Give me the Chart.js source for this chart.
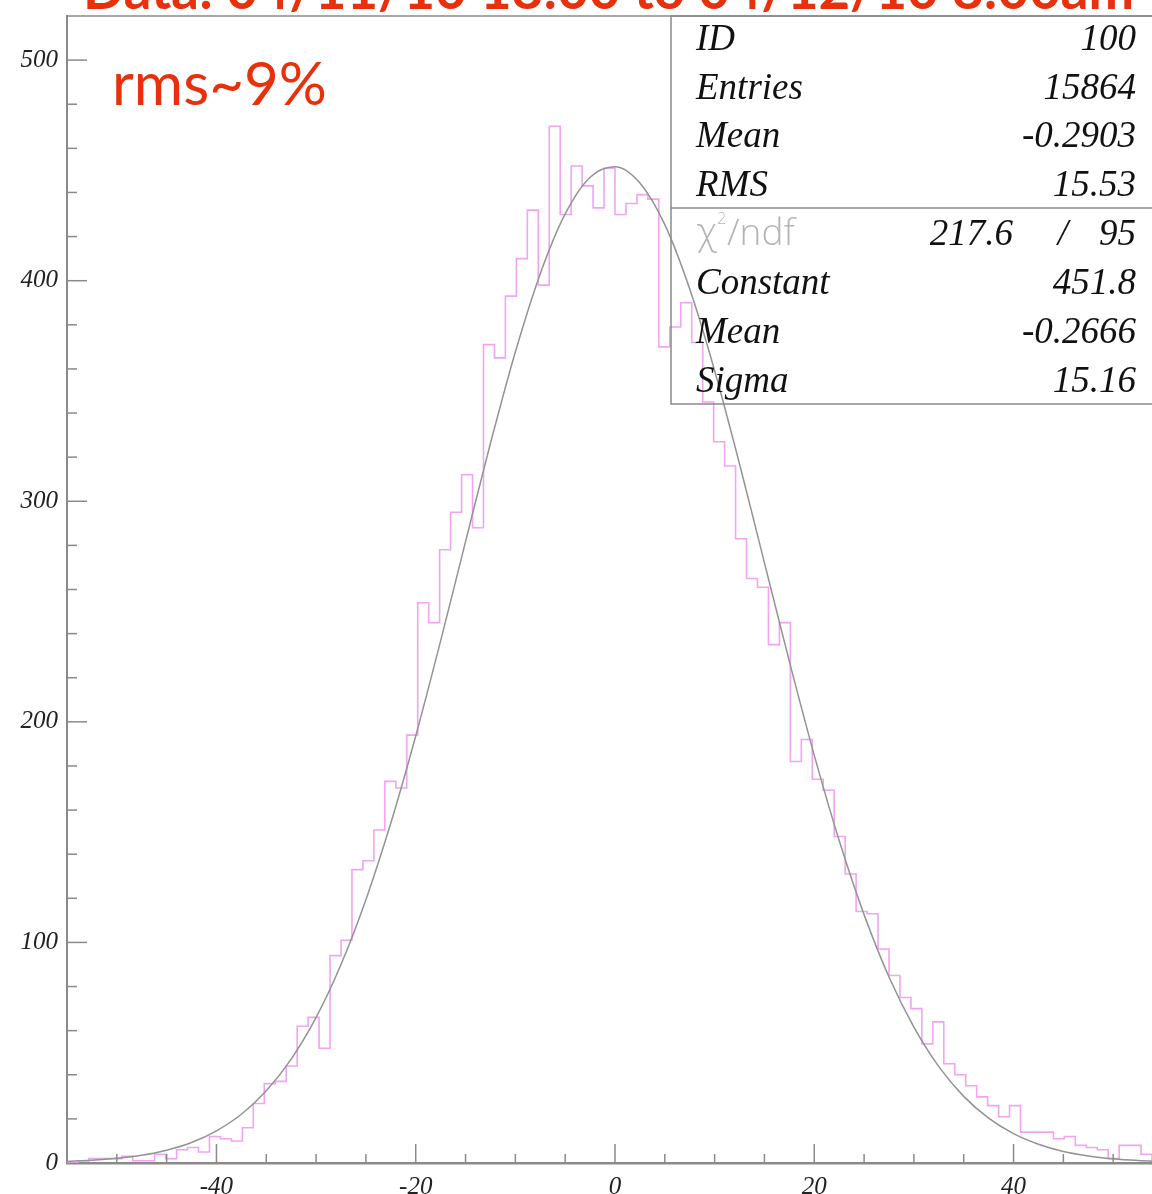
<!DOCTYPE html>
<html><head><meta charset="utf-8">
<script src="https://cdn.jsdelivr.net/npm/chart.js@4.4.1/dist/chart.umd.min.js"></script>
<style>
html,body{margin:0;padding:0;overflow:hidden;background:#fff;width:1152px;height:1194px;}
#wrap{position:absolute;left:0;top:0;width:1163px;height:1194px;}
canvas{display:block;}
</style></head><body>
<div id="wrap"><canvas id="c" width="1163" height="1194"></canvas></div>
<script>
// Histogram binning (100 bins from -55 to 55)
const binLow = -55;
const binWidth = 1.1;
// Bin contents
const counts = [
  0, 1, 2, 2, 2, 3, 1, 1, 4, 2,
  6, 7, 5, 12, 11, 10, 16, 27, 36, 37,
  44, 62, 66, 52, 94, 101, 133, 137, 151, 173,
  170, 194, 254, 245, 278, 295, 312, 288, 371, 365,
  393, 410, 432, 398, 470, 430, 452, 443, 433, 451,
  430, 435, 439, 437, 370, 379, 390, 372, 345, 327,
  316, 283, 265, 261, 235, 245, 182, 192, 174, 169,
  148, 131, 114, 113, 97, 85, 75, 70, 54, 64,
  45, 40, 35, 30, 26, 21, 26, 14, 14, 14,
  11, 12, 8, 7, 6, 2, 8, 8, 4, 1
];
// Fitted curve
const fitX = [-55,-52.5,-50,-47.5,-45,-42.5,-40,-37.5,-35,-32.5,-30,-27.5,-25,-22.5,-20,-17.5,-15,-12.5,-10,-7.5,-5,-2.5,0,2.5,5,7.5,10,12.5,15,17.5,20,22.5,25,27.5,30,32.5,35,37.5,40,42.5,45,47.5,50,52.5,55];
const fitY = [0.7,1.2,2.1,3.5,5.8,9.3,14.6,22.1,32.8,47.1,66,90,119.4,154.1,193.6,236.7,281.7,326.3,367.7,403.2,430.3,446.9,451.7,444.3,425.4,396.2,359.2,316.9,272.1,227.4,184.8,146.2,112.6,84.3,61.6,43.7,30.2,20.3,13.3,8.5,5.2,3.2,1.9,1.1,0.6];
// Axis ranges / tick labels
const xRange = [-55, 55];
const yRange = [0, 520];
const xLabelEvery = 20, xMinorEvery = 5;
const yLabelEvery = 100, yMinorEvery = 20;
// Stats box texts
const statsTop = [["ID","100"],["Entries","15864"],["Mean","-0.2903"],["RMS","15.53"]];
const chi2 = ["217.6", "/", "95"];
const statsFit = [["Constant","451.8"],["Mean","-0.2666"],["Sigma","15.16"]];
const titleText = "Data: 04/11/10 18:00 to 04/12/10 8:00am";
const noteText = "rms~9%";

// build step outline
const histPts = [{x: binLow, y: 0}];
counts.forEach((c, i) => histPts.push({x: binLow + i * binWidth, y: c}));
histPts.push({x: binLow + counts.length * binWidth, y: counts[counts.length - 1]});
histPts.push({x: binLow + counts.length * binWidth, y: 0});
const fitPts = fitX.map((x, i) => ({x, y: fitY[i]}));

const serifIt = 'italic 37px "Liberation Serif", "Times New Roman", serif';
const decor = {
  id: 'decor',
  afterDraw(chart) {
    const {ctx, chartArea: a, scales: {x, y}} = chart;
    ctx.save();
    ctx.strokeStyle = '#8a8a8a';
    ctx.lineWidth = 1.5;
    ctx.beginPath(); ctx.moveTo(a.left, a.top); ctx.lineTo(a.right, a.top); ctx.stroke();
    x.ticks.forEach(t => {
      if (t.value <= xRange[0] || t.value >= xRange[1]) return;
      const px = x.getPixelForValue(t.value);
      const len = (t.value % xLabelEvery === 0) ? 19 : 9;
      ctx.beginPath(); ctx.moveTo(px, a.bottom); ctx.lineTo(px, a.bottom - len); ctx.stroke();
    });
    y.ticks.forEach(t => {
      if (t.value <= yRange[0] || t.value >= yRange[1]) return;
      const py = y.getPixelForValue(t.value);
      const len = (t.value % yLabelEvery === 0) ? 20 : 10;
      ctx.beginPath(); ctx.moveTo(a.left, py); ctx.lineTo(a.left + len, py); ctx.stroke();
    });
    // stats box
    const bx0 = 671, bx1 = 1162, by0 = a.top, by1 = 404, bDiv = 208;
    ctx.strokeStyle = '#8a8a8a'; ctx.lineWidth = 1.5;
    ctx.strokeRect(bx0, by0, bx1 - bx0, by1 - by0);
    ctx.beginPath(); ctx.moveTo(bx0, bDiv); ctx.lineTo(bx1, bDiv); ctx.stroke();
    ctx.fillStyle = '#111';
    ctx.font = serifIt;
    ctx.textBaseline = 'alphabetic';
    const rowY = [50, 99, 147, 196, 245, 294, 343, 392];
    statsTop.forEach((r, i) => {
      ctx.textAlign = 'left'; ctx.fillText(r[0], 696, rowY[i]);
      ctx.textAlign = 'right'; ctx.fillText(r[1], 1136, rowY[i]);
    });
    // chi2 row
    ctx.fillStyle = '#b4b4b4';
    ctx.textAlign = 'left';
    ctx.font = '300 38px "DejaVu Sans", sans-serif';
    ctx.fillText('\u03C7', 696, rowY[4]);
    ctx.font = '300 15px "DejaVu Sans", sans-serif';
    ctx.fillText('2', 717, rowY[4] - 21);
    ctx.font = '300 37px "Open Sans", "DejaVu Sans", sans-serif';
    ctx.fillText('/ndf', 727, rowY[4]);
    ctx.fillStyle = '#111';
    ctx.font = serifIt;
    ctx.textAlign = 'right';
    ctx.fillText(chi2[0], 1013, rowY[4]);
    ctx.fillText(chi2[1], 1068, rowY[4]);
    ctx.fillText(chi2[2], 1136, rowY[4]);
    statsFit.forEach((r, i) => {
      ctx.textAlign = 'left'; ctx.fillText(r[0], 696, rowY[5 + i]);
      ctx.textAlign = 'right'; ctx.fillText(r[1], 1136, rowY[5 + i]);
    });
    // red texts
    ctx.fillStyle = '#e8300c';
    ctx.textAlign = 'left';
    let fs = 48;
    ctx.font = 'bold ' + fs + 'px Lato, sans-serif';
    const w = ctx.measureText(titleText).width;
    fs = fs * 1052 / w;
    ctx.font = 'bold ' + fs.toFixed(1) + 'px Lato, sans-serif';
    ctx.fillText(titleText, 83, 9);
    ctx.font = '60px Lato, sans-serif';
    ctx.fillText(noteText, 112, 105);
    ctx.restore();
  }
};

const tickFont = {family: '"Liberation Serif", "Times New Roman", serif', style: 'italic', size: 25};
new Chart(document.getElementById('c'), {
  type: 'line',
  data: {
    datasets: [
      {data: histPts, stepped: true, borderColor: '#f2a4f2', borderWidth: 1.6, pointRadius: 0, fill: false, order: 2},
      {data: fitPts, borderColor: '#939393', borderWidth: 1.5, pointRadius: 0, fill: false, cubicInterpolationMode: 'monotone', order: 1}
    ]
  },
  options: {
    responsive: false,
    animation: false,
    devicePixelRatio: 1,
    layout: {padding: {top: 16, right: 0, left: 0, bottom: 0}},
    plugins: {legend: {display: false}, tooltip: {enabled: false}},
    scales: {
      x: {
        type: 'linear', min: xRange[0], max: xRange[1],
        grid: {display: false},
        border: {display: true, color: '#8a8a8a', width: 2.5},
        ticks: {stepSize: xMinorEvery, autoSkip: false, maxRotation: 0, padding: 1, color: '#222', font: tickFont,
          callback: v => (v % xLabelEvery === 0 && v > xRange[0] && v < xRange[1]) ? String(v) : ''},
        afterFit: s => { s.height = 31; s.paddingLeft = 0; s.paddingRight = 0; }
      },
      y: {
        type: 'linear', min: yRange[0], max: yRange[1],
        grid: {display: false},
        border: {display: true, color: '#8a8a8a', width: 2},
        ticks: {stepSize: yMinorEvery, autoSkip: false, padding: 1, color: '#222', font: tickFont,
          callback: v => (v % yLabelEvery === 0) ? String(v) : ''},
        afterFit: s => { s.width = 67; s.paddingTop = 0; s.paddingBottom = 0; }
      }
    }
  },
  plugins: [decor]
});
</script>
</body></html>
